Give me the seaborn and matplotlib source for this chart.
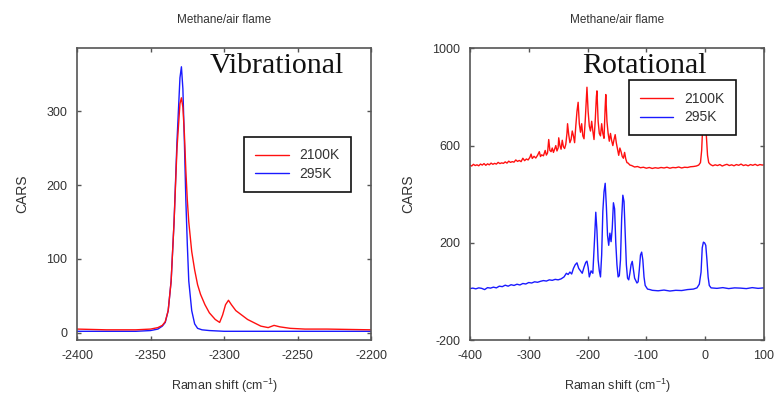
import matplotlib
matplotlib.use("Agg")
import matplotlib.pyplot as plt
import seaborn as sns
import pandas as pd
from matplotlib.lines import Line2D

# Vibrational spectrum
vib_hot_x = [-2400, -2380, -2360, -2350, -2345, -2342, -2340, -2338, -2336, -2334,
             -2332, -2330, -2329, -2328, -2327, -2326, -2325, -2324, -2322, -2320,
             -2318, -2316, -2313, -2310, -2306, -2303, -2301, -2299, -2297, -2295,
             -2292, -2288, -2284, -2280, -2275, -2270, -2266, -2262, -2255, -2245,
             -2230, -2200]
vib_hot_y = [5, 4, 4, 5, 7, 10, 15, 30, 70, 150,
             250, 310, 318, 305, 270, 220, 180, 150, 110, 85,
             65, 52, 38, 27, 18, 14, 24, 38, 44, 38,
             30, 24, 18, 14, 9, 7, 10, 8, 6, 5,
             5, 4]
vib_cold_x = [-2400, -2380, -2360, -2350, -2345, -2342, -2340, -2338, -2336, -2334,
              -2332, -2330, -2329, -2328, -2327, -2326, -2325, -2324, -2322, -2320,
              -2318, -2315, -2310, -2300, -2250, -2200]
vib_cold_y = [2, 2, 2, 3, 5, 9, 14, 30, 70, 150,
              260, 345, 360, 330, 260, 180, 120, 70, 30, 12,
              6, 4, 3, 2, 2, 2]

# Rotational spectrum, 2100K (offset trace)
rot_hot_x = [-400, -397, -394, -391, -388, -385, -382, -379, -376, -373,
             -370, -367, -364, -361, -358, -355, -352, -349, -346, -343,
             -340, -337, -334, -331, -328, -325, -322, -319, -316, -313,
             -310, -307, -304, -301, -298, -296, -294, -291, -288, -285,
             -282, -280, -278, -275, -272, -270, -268, -266, -264, -262,
             -260, -258, -256, -254, -252, -250, -249, -247, -245, -243,
             -241, -239, -237, -235, -234, -232, -230, -228, -226, -224,
             -222, -220, -218, -216, -214, -212, -210, -208, -206, -204,
             -202, -201, -199, -197, -195, -193, -191, -189, -187, -185,
             -184, -182, -180, -178, -176, -174, -172, -170, -169, -167,
             -165, -163, -161, -159, -157, -155, -153, -151, -149, -147,
             -145, -143, -141, -139, -137, -135, -133, -131, -128, -125,
             -120, -115, -110, -105, -100, -95, -90, -85, -80, -75,
             -70, -65, -60, -55, -50, -45, -40, -35, -30, -25,
             -20, -15, -11, -8, -6, -4, -2, 0, 2, 4,
             6, 9, 13, 17, 21, 25, 29, 33, 37, 41,
             45, 49, 53, 57, 61, 65, 69, 73, 77, 81,
             85, 89, 93, 97, 100]
rot_hot_y = [520, 516, 523, 518, 521, 517, 524, 520, 526, 519,
             525, 521, 528, 523, 527, 524, 531, 526, 529, 527,
             533, 528, 536, 531, 534, 532, 541, 535, 539, 534,
             548, 538, 545, 541, 552, 565, 547, 556, 549, 560,
             575, 555, 562, 558, 580, 561, 570, 625, 580, 575,
             590, 572, 585, 600, 578, 590, 632, 600, 585, 622,
             595, 588, 605, 650, 690, 645, 612, 625, 660, 640,
             612, 680, 740, 778, 690, 655, 690, 640, 628, 700,
             790, 840, 740, 680, 660, 700, 660, 625, 700, 800,
             825, 700, 650, 640, 690, 650, 630, 760, 810, 700,
             650, 618, 650, 620, 600, 625, 645, 610, 585, 560,
             590, 575, 555, 548, 572, 545, 530, 528, 520, 518,
             512, 514, 509, 511, 507, 510, 506, 509, 507, 510,
             508, 511, 507, 510, 509, 512, 508, 511, 510, 513,
             514, 516, 520, 530, 580, 690, 700, 700, 640, 560,
             530, 522, 517, 521, 518, 522, 516, 520, 523, 518,
             521, 517, 522, 519, 524, 518, 521, 517, 522, 519,
             523, 518, 522, 520, 521]

# Rotational spectrum, 295K
rot_cold_x = [-400, -395, -390, -385, -380, -375, -370, -365, -360, -355,
              -350, -345, -340, -335, -330, -325, -320, -315, -310, -305,
              -300, -295, -290, -285, -280, -275, -270, -265, -260, -255,
              -250, -245, -240, -236, -233, -230, -227, -224, -221, -218,
              -215, -212, -209, -206, -203, -201, -199, -197, -194, -191,
              -188, -186, -184, -182, -180, -178, -176, -174, -172, -170,
              -168, -166, -164, -162, -160, -158, -156, -154, -152, -150,
              -148, -146, -144, -142, -140, -138, -136, -134, -132, -130,
              -128, -126, -124, -122, -120, -118, -116, -114, -112, -110,
              -108, -106, -104, -102, -98, -94, -90, -80, -70, -60,
              -50, -40, -30, -20, -14, -10, -7, -5, -3, -1,
              1, 3, 5, 7, 10, 20, 30, 40, 50, 60,
              70, 80, 90, 100]
rot_cold_y = [12, 14, 11, 15, 13, 8, 16, 14, 18, 15,
              22, 20, 26, 22, 28, 25, 30, 27, 33, 31,
              37, 35, 40, 38, 42, 45, 43, 48, 46, 50,
              48, 52, 60, 75, 70, 80, 72, 95, 110, 118,
              95, 85, 75, 100, 120, 125, 100, 60, 85, 75,
              220, 326, 250, 130, 85, 60, 150, 330, 410, 445,
              350, 230, 190, 240, 205, 260, 365, 340, 200, 110,
              60, 65, 130, 300, 396, 370, 240, 110, 55, 48,
              75, 110, 124, 90, 55, 45, 35, 40, 90, 150,
              162, 130, 60, 25, 10, 8, 5, 3, 6, 2,
              5, 4, 8, 10, 15, 30, 80, 180, 203, 200,
              190, 130, 60, 25, 15, 13, 16, 12, 15, 14,
              12, 16, 13, 15]

series_labels = ["2100K", "295K"]
red = "#ff1010"
blue = "#1a1aff"

sns.set_style("ticks")
plt.rcParams["font.family"] = ["Liberation Sans", "DejaVu Sans"]
plt.rcParams["axes.unicode_minus"] = False
plt.rcParams["mathtext.fontset"] = "custom"
plt.rcParams["mathtext.rm"] = "Liberation Sans"

fig = plt.figure(figsize=(7.78, 3.96), dpi=100)
ax1 = fig.add_axes([0.099, 0.141, 0.378, 0.737])
ax2 = fig.add_axes([0.604, 0.141, 0.378, 0.737])

vib_hot = pd.DataFrame({"shift": vib_hot_x, "cars": vib_hot_y})
vib_cold = pd.DataFrame({"shift": vib_cold_x, "cars": vib_cold_y})
rot_hot = pd.DataFrame({"shift": rot_hot_x, "cars": rot_hot_y})
rot_cold = pd.DataFrame({"shift": rot_cold_x, "cars": rot_cold_y})

sns.lineplot(data=vib_cold, x="shift", y="cars", color=blue, lw=1.0, estimator=None, ax=ax1)
sns.lineplot(data=vib_hot, x="shift", y="cars", color=red, lw=1.0, estimator=None, ax=ax1)
sns.lineplot(data=rot_cold, x="shift", y="cars", color=blue, lw=1.0, estimator=None, ax=ax2)
sns.lineplot(data=rot_hot, x="shift", y="cars", color=red, lw=1.0, estimator=None, ax=ax2)

ax1.set_xlim(-2400, -2200)
ax1.set_ylim(-10, 385)
ax1.set_xticks([-2400, -2350, -2300, -2250, -2200])
ax1.set_yticks([0, 100, 200, 300])

ax2.set_xlim(-400, 100)
ax2.set_ylim(-200, 1000)
ax2.set_xticks([-400, -300, -200, -100, 0, 100])
ax2.set_yticks([-200, 200, 600, 1000])

handles = [Line2D([], [], color=red, lw=1.0), Line2D([], [], color=blue, lw=1.0)]
legend_pos = [(0.568, 0.695), (0.541, 0.890)]
panel_names = ["Vibrational", "Rotational"]
name_pos = [0.452, 0.381]

for ax, lpos, name, npos in zip([ax1, ax2], legend_pos, panel_names, name_pos):
    for side in ax.spines.values():
        side.set_color("#555555")
        side.set_linewidth(1.2)
    ax.tick_params(direction="in", top=True, right=True, length=3, width=1,
                   color="#555555", labelsize=9, labelcolor="#333333", pad=7)
    ax.set_xlabel("Raman shift (cm$^{-1}$)", fontsize=9, color="#333333", labelpad=11)
    ax.set_ylabel("CARS", fontsize=10, color="#333333", labelpad=12)
    ax.set_title("Methane/air flame", fontsize=8.5, color="#333333", pad=18)
    ax.text(npos, 0.914, name, transform=ax.transAxes, ha="left", va="baseline",
            fontsize=21.5, family="Liberation Serif", color="#111111")
    leg = ax.legend(handles, series_labels, loc="upper left", bbox_to_anchor=lpos,
                    frameon=True, fancybox=False, framealpha=1, fontsize=10,
                    handlelength=2.4, handletextpad=0.8, borderpad=0.8,
                    labelspacing=0.35, borderaxespad=0)
    leg.get_frame().set_edgecolor("#111111")
    leg.get_frame().set_linewidth(1.2)
    for t in leg.get_texts():
        t.set_color("#333333")

fig.savefig("out.png", dpi=100)
